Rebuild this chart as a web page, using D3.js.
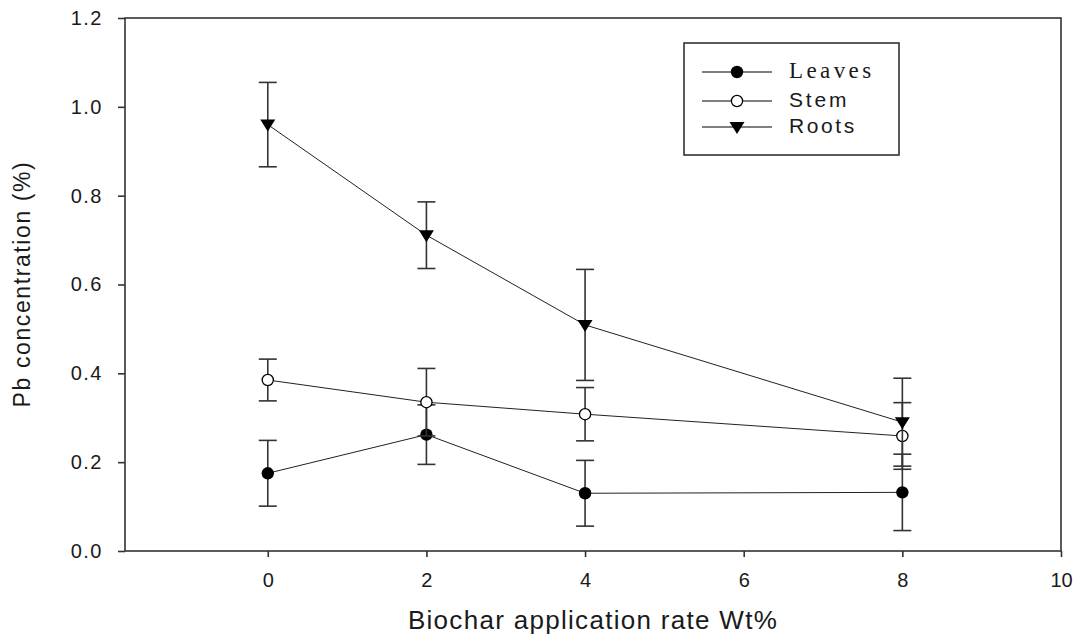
<!DOCTYPE html>
<html>
<head>
<meta charset="utf-8">
<script src="https://cdn.jsdelivr.net/npm/d3@7"></script>
<style>
  body { margin: 0; background: #fff; }
  text { font-family: Arial, "Liberation Sans", sans-serif; fill: #1a1a1a; }
</style>
</head>
<body>
<div id="chart"></div>
<script>
'use strict';

var rates = [0, 2, 4, 8];
var leaves = [0.175, 0.262, 0.130, 0.132];
var leavesErr = [0.074, 0.067, 0.074, 0.086];
var stem = [0.385, 0.335, 0.308, 0.259];
var stemErr = [0.047, 0.076, 0.060, 0.075];
var roots = [0.960, 0.711, 0.509, 0.290];
var rootsErr = [0.095, 0.075, 0.125, 0.099];
var xTicks = [0, 2, 4, 6, 8, 10];
var yTicks = [0, 0.2, 0.4, 0.6, 0.8, 1.0, 1.2];

var width = 1079, height = 641;
var margin = {top: 18, right: 18, bottom: 90, left: 125};

var svg = d3.select('#chart').append('svg')
  .attr('width', width)
  .attr('height', height);

var x = d3.scaleLinear().domain([-1.8, 10]).range([margin.left, width - margin.right]);
var y = d3.scaleLinear().domain([0, 1.2]).range([height - margin.bottom, margin.top]);

// frame
svg.append('rect')
  .attr('x', x(-1.8)).attr('y', y(1.2))
  .attr('width', x(10) - x(-1.8)).attr('height', y(0) - y(1.2))
  .attr('fill', 'none').attr('stroke', '#333').attr('stroke-width', 1.6);

var yAxis = svg.append('g')
  .attr('transform', 'translate(' + x(-1.8) + ',0)')
  .call(d3.axisLeft(y).tickValues(yTicks).tickFormat(d3.format('.1f')).tickSize(7).tickPadding(15));
var xAxis = svg.append('g')
  .attr('transform', 'translate(0,' + y(0) + ')')
  .call(d3.axisBottom(x).tickValues(xTicks).tickFormat(d3.format('d')).tickSize(6).tickPadding(16));

[xAxis, yAxis].forEach(function(a) {
  a.select('.domain').remove();
  a.selectAll('.tick line').attr('stroke', '#333').attr('stroke-width', 1.6);
  a.selectAll('.tick text').style('font-size', '20px').attr('fill', '#1a1a1a');
});
yAxis.selectAll('.tick text').style('letter-spacing', '1.5px');

svg.append('text')
  .attr('x', 593).attr('y', 629)
  .attr('text-anchor', 'middle')
  .style('font-size', '26px')
  .style('letter-spacing', '1.3px')
  .text('Biochar application rate Wt%');

svg.append('text')
  .attr('transform', 'translate(30,' + 284 + ') rotate(-90)')
  .attr('text-anchor', 'middle')
  .style('font-size', '23px')
  .style('letter-spacing', '1.6px')
  .text('Pb concentration (%)');

var series = [
  {name: 'Leaves', vals: leaves, err: leavesErr, shape: 'dot'},
  {name: 'Stem', vals: stem, err: stemErr, shape: 'open'},
  {name: 'Roots', vals: roots, err: rootsErr, shape: 'tri'}
];

var line = d3.line()
  .x(function(d, i) { return x(rates[i]); })
  .y(function(d) { return y(d); });

function drawMarker(g, shape, cx, cy) {
  if (shape === 'dot') {
    g.append('circle').attr('cx', cx).attr('cy', cy).attr('r', 6.2).attr('fill', '#000');
  } else if (shape === 'open') {
    g.append('circle').attr('cx', cx).attr('cy', cy).attr('r', 5.6)
      .attr('fill', '#fff').attr('stroke', '#000').attr('stroke-width', 1.3);
  } else {
    g.append('path')
      .attr('d', 'M-7.5,-5L7.5,-5L0,7Z')
      .attr('transform', 'translate(' + cx + ',' + cy + ')')
      .attr('fill', '#000');
  }
}

series.forEach(function(s) {
  var g = svg.append('g');
  // error bars
  s.vals.forEach(function(v, i) {
    var cx = x(rates[i]);
    g.append('line')
      .attr('x1', cx).attr('x2', cx)
      .attr('y1', y(v - s.err[i])).attr('y2', y(v + s.err[i]))
      .attr('stroke', '#333').attr('stroke-width', 1.6);
    [v - s.err[i], v + s.err[i]].forEach(function(e) {
      g.append('line')
        .attr('x1', cx - 9).attr('x2', cx + 9)
        .attr('y1', y(e)).attr('y2', y(e))
        .attr('stroke', '#333').attr('stroke-width', 1.6);
    });
  });
  g.append('path')
    .datum(s.vals)
    .attr('d', line)
    .attr('fill', 'none').attr('stroke', '#222').attr('stroke-width', 1);
  s.vals.forEach(function(v, i) {
    drawMarker(g, s.shape, x(rates[i]), y(v));
  });
});

// legend
var legend = svg.append('g');
legend.append('rect')
  .attr('x', 684).attr('y', 43).attr('width', 215).attr('height', 112)
  .attr('fill', '#fff').attr('stroke', '#333').attr('stroke-width', 1.6);
var rowY = [72, 101, 127];
var rowText = [{size: '23px', sp: '3.4px'}, {size: '21px', sp: '2.8px'}, {size: '21px', sp: '2.6px'}];
series.forEach(function(s, i) {
  legend.append('line')
    .attr('x1', 702).attr('x2', 772).attr('y1', rowY[i]).attr('y2', rowY[i])
    .attr('stroke', '#000').attr('stroke-width', 1.2);
  drawMarker(legend, s.shape, 737, rowY[i]);
  legend.append('text')
    .attr('x', 789).attr('y', rowY[i] + 6)
    .style('font-size', rowText[i].size)
    .style('letter-spacing', rowText[i].sp)
    .style('font-family', i === 0 ? '"Liberation Serif", "Times New Roman", serif' : null)
    .text(s.name);
});
</script>
</body>
</html>
